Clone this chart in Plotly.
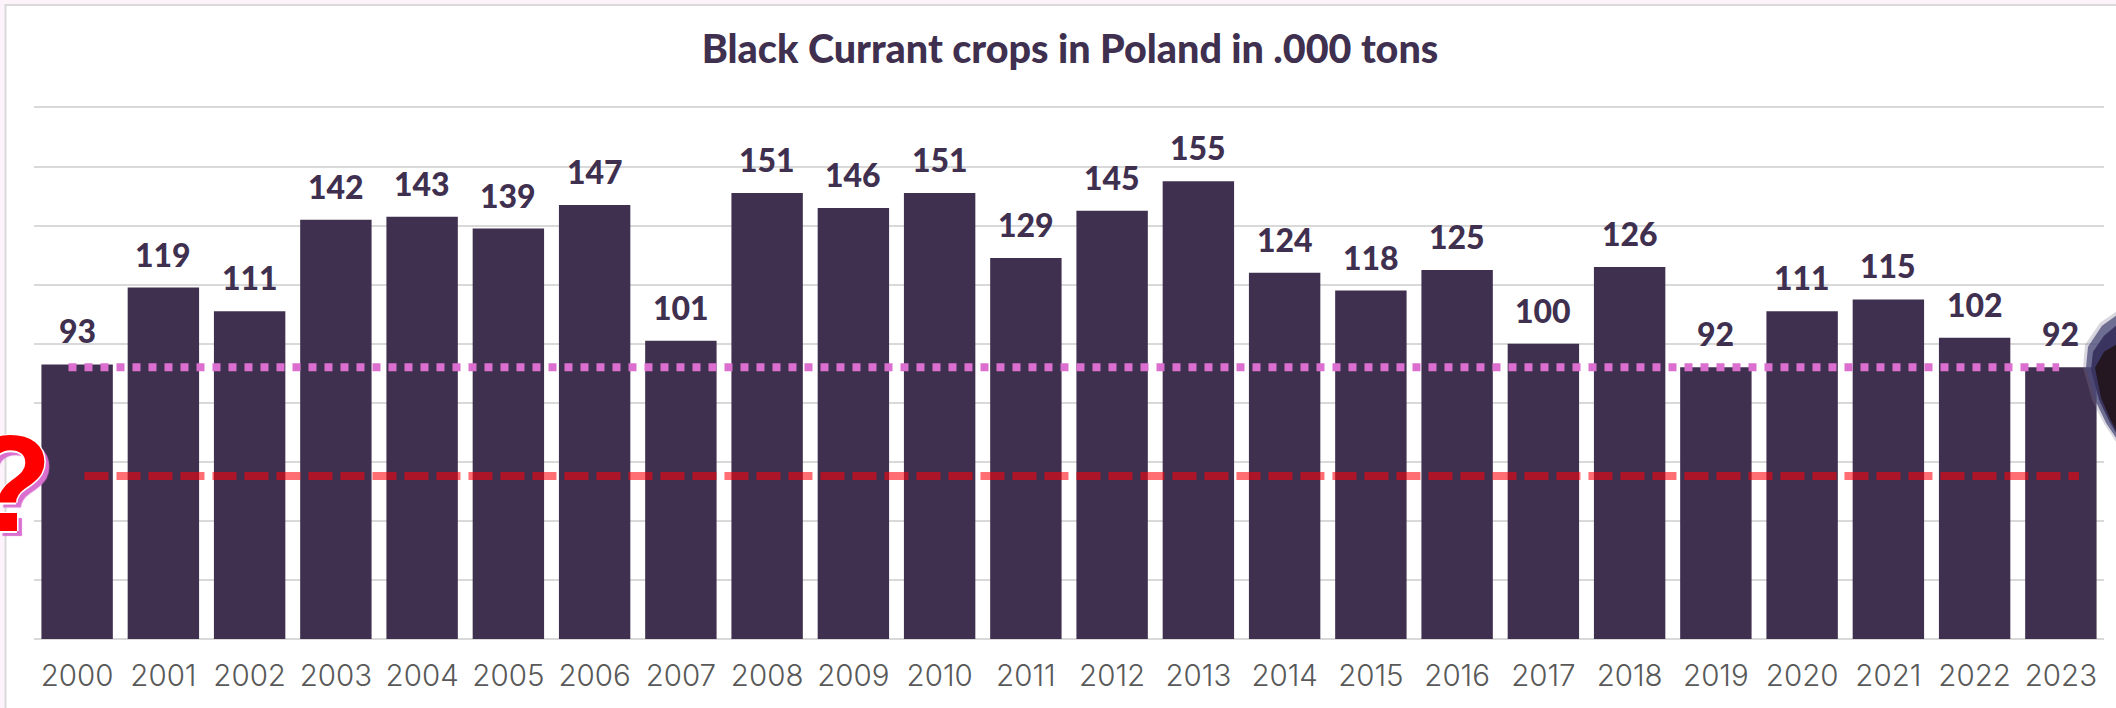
import plotly.graph_objects as go

years = list(range(2000, 2024))
crops = [93, 119, 111, 142, 143, 139, 147, 101, 151, 146, 151, 129,
         145, 155, 124, 118, 125, 100, 126, 92, 111, 115, 102, 92]
avg_x = [1999.9, 2022.98]
avg_y = [92, 92]
future_x = [2000.085, 2023.21]
future_y = [55.2, 55.2]
y_ticks = [0, 20, 40, 60, 80, 100, 120, 140, 160, 180]
title = "Black Currant crops in Poland in .000 tons"

W, H = 2116, 708
L, R, T, B = 33.5, 2104.0, 106.0, 639.5
DARK = "#40304f"


def px(x):
    return (x - L) / (R - L)


def py(y):
    return (B - y) / (B - T)


def path(points):
    return "M " + " L ".join(f"{px(x):.5f},{py(y):.5f}" for x, y in points) + " Z"


fig = go.Figure()
fig.add_bar(x=years, y=crops, marker=dict(color=DARK, line=dict(width=0)),
            hoverinfo="x+y", showlegend=False)
fig.add_scatter(x=avg_x, y=avg_y, mode="lines", showlegend=False,
                line=dict(color="#db6fd0", width=8, dash="8px,8px"))
fig.add_scatter(x=future_x, y=future_y, mode="lines", showlegend=False,
                line=dict(color="rgba(255,0,8,0.57)", width=8, dash="24px,8px"))

annotations = [
    dict(x=yr, y=v, text=str(v), showarrow=False, xref="x", yref="y",
         yanchor="bottom", yshift=12,
         font=dict(family="Lato", size=32, color=DARK, weight=900))
    for yr, v in zip(years, crops)
]
annotations.append(dict(
    x=px(9), y=py(483), xref="paper", yref="paper", text="?", showarrow=False,
    xanchor="center", yanchor="middle",
    font=dict(family="Liberation Sans", size=138, color="#ff0000", weight=700,
              shadow="1.5px 0 #fff, -1.5px 0 #fff, 0 1.5px #fff, 0 -1.5px #fff, 5px 5px 1px #db6fd0"),
))

shapes = [
    dict(type="rect", xref="paper", yref="paper", layer="below",
         x0=px(5), x1=px(W + 5), y0=py(5), y1=py(H + 5),
         fillcolor="white", line=dict(color="#d9d9d9", width=2)),
    dict(type="path", xref="paper", yref="paper", layer="above",
         path=path([(2116, 312), (2100, 323), (2085, 345), (2083, 368),
                    (2092, 400), (2104, 424), (2116, 442)]),
         fillcolor="#7d7a94", line=dict(width=0), opacity=0.3),
    dict(type="path", xref="paper", yref="paper", layer="above",
         path=path([(2116, 316), (2102, 326), (2088, 347), (2086, 368),
                    (2095, 400), (2106, 423), (2116, 438)]),
         fillcolor="#4b4a78", line=dict(width=0), opacity=0.75),
    dict(type="path", xref="paper", yref="paper", layer="above",
         path=path([(2116, 326), (2104, 336), (2093, 352), (2091, 370),
                    (2099, 400), (2109, 421), (2116, 433)]),
         fillcolor="#3a3560", line=dict(width=0)),
    dict(type="path", xref="paper", yref="paper", layer="above",
         path=path([(2116, 345), (2104, 352), (2095, 368), (2101, 398),
                    (2110, 419), (2116, 430)]),
         fillcolor="#241722", line=dict(width=0)),
]

fig.update_layout(
    width=W, height=H, autosize=False,
    paper_bgcolor="#fdf3fb", plot_bgcolor="rgba(0,0,0,0)",
    margin=dict(l=L, r=W - R, t=T, b=H - B, pad=0, autoexpand=False),
    bargap=0.172, showlegend=False,
    title=dict(text=title, x=1070 / W, xanchor="center", y=1 - 49 / H,
               yanchor="middle",
               font=dict(family="Lato", size=39.5, color=DARK, weight=900)),
    xaxis=dict(range=[1999.5, 2023.5], tickmode="array", tickvals=years,
               ticktext=[str(y) for y in years], showgrid=False, zeroline=False,
               showline=False, ticks="", ticklabelstandoff=16,
               tickfont=dict(family="Inter", size=29.5, color="#595959", weight=300)),
    yaxis=dict(range=[0, 180.5], tickmode="array", tickvals=y_ticks,
               showticklabels=False, showgrid=True, gridcolor="#d9d9d9",
               gridwidth=2, zeroline=True, zerolinecolor="#d9d9d9",
               zerolinewidth=2, showline=False, ticks=""),
    annotations=annotations,
    shapes=shapes,
)

fig.write_html(
    "out.html",
    config={"displayModeBar": False},
    post_script="document.body.style.margin='0';document.body.style.overflow='hidden';",
)
